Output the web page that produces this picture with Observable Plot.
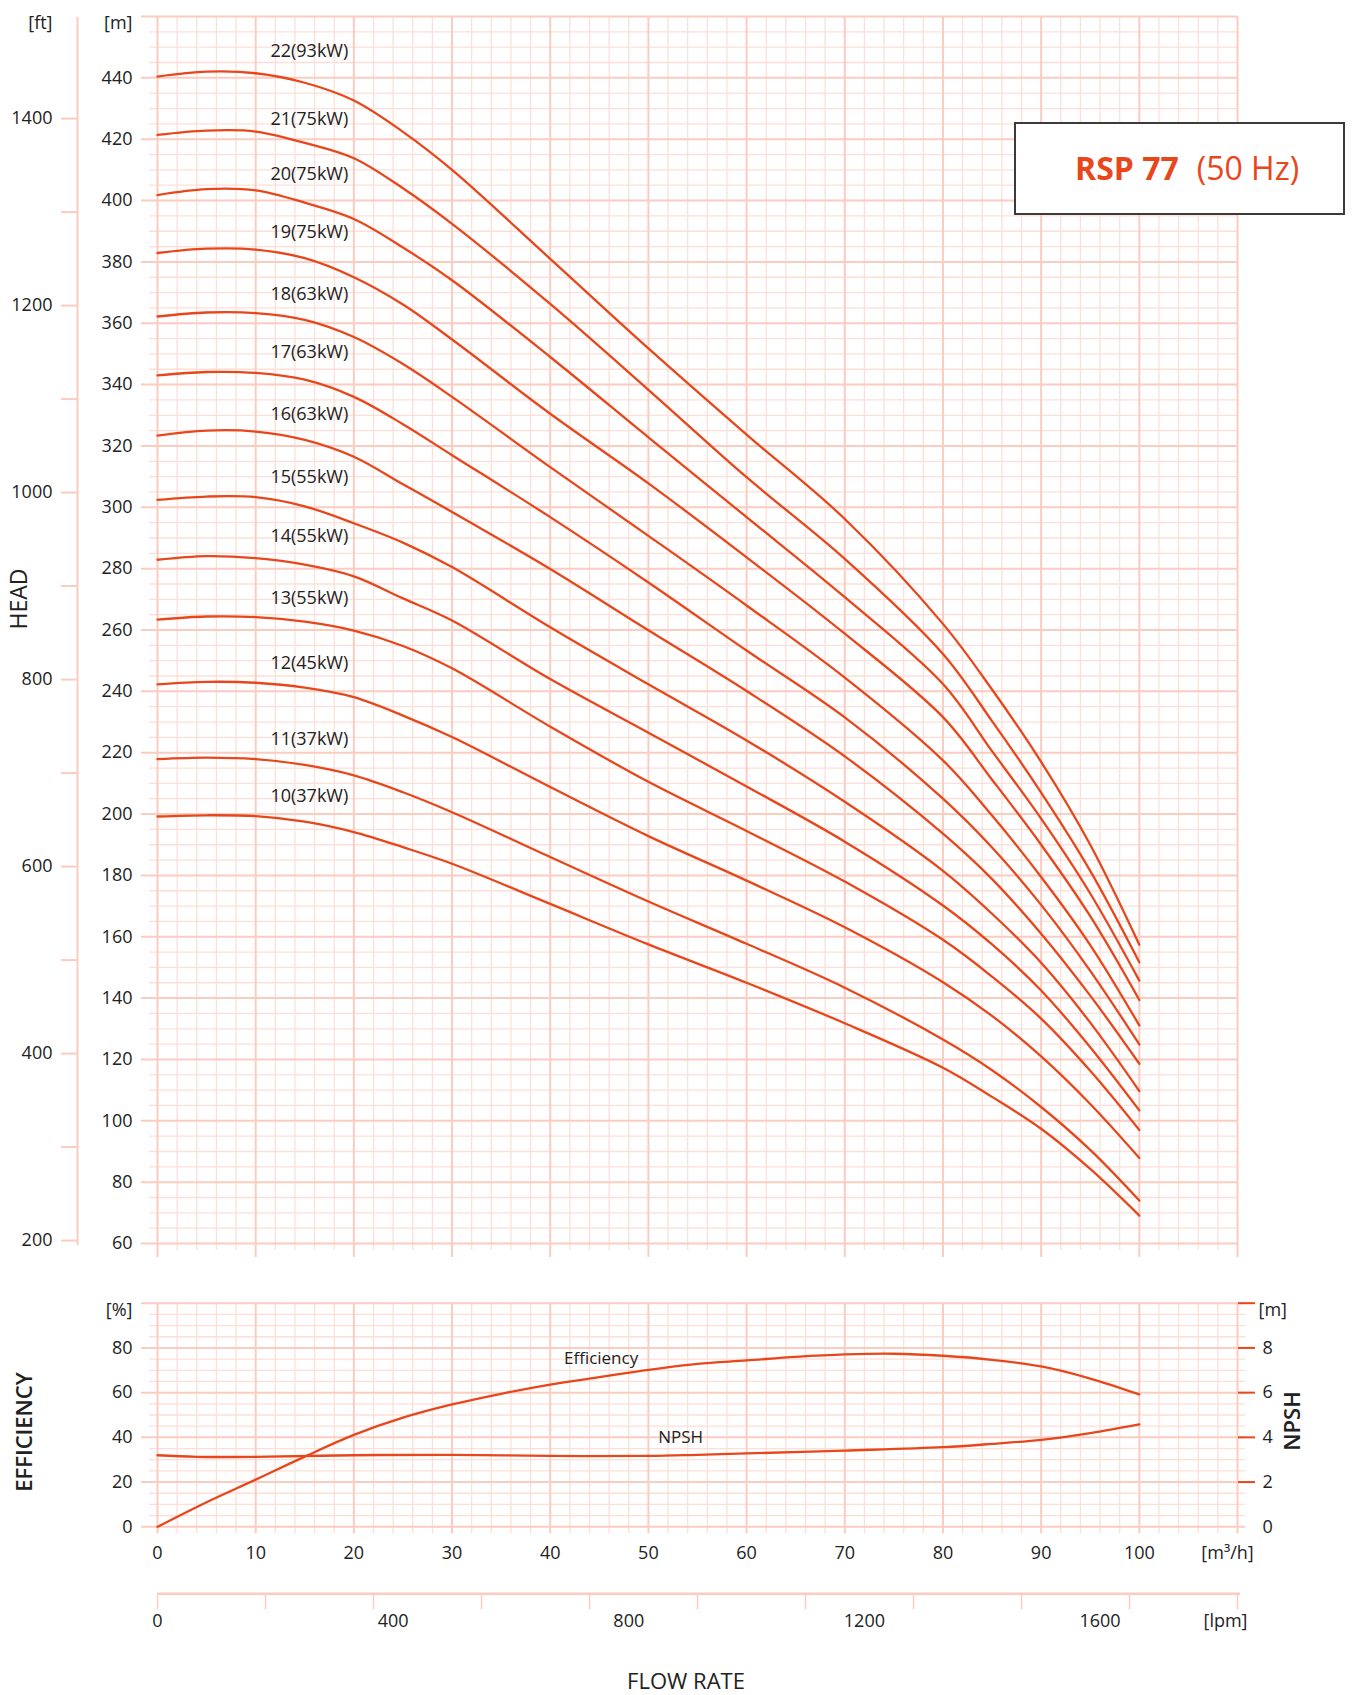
<!DOCTYPE html>
<html>
<head>
<meta charset="utf-8">
<script src="https://cdn.jsdelivr.net/npm/d3@7"></script>
<script src="https://cdn.jsdelivr.net/npm/@observablehq/plot@0.6"></script>
<style>
  html, body { margin: 0; padding: 0; background: #fff; }
  #page { position: relative; width: 1353px; height: 1695px; overflow: hidden; font-family: "Open Sans", sans-serif; color: #222; }
  .lbl { position: absolute; white-space: nowrap; line-height: 1; transform: translate(-50%, -50%); }
  .rot { transform: translate(-50%, -50%) rotate(-90deg); }
  #titlebox { position: absolute; left: 1014px; top: 122px; width: 331px; height: 93px; box-sizing: border-box;
    border: 2px solid #3b3b3b; background: #fff; display: flex; align-items: center; padding-left: 59px; padding-bottom: 3px;
    color: #e8461b; font-size: 32px; white-space: nowrap; font-family: "Open Sans", sans-serif; }
  #titlebox b { font-weight: 700; margin-right: 18px; }
</style>
</head>
<body>
<div id="page"></div>
<script>
// ---------------- data ----------------
const flowHead = [0, 5, 10, 15, 20, 25, 30, 40, 50, 60, 70, 80, 85, 90, 95, 100]; // m3/h
const stages = [22, 21, 20, 19, 18, 17, 16, 15, 14, 13, 12, 11, 10];
const motorKW = [93, 75, 75, 75, 63, 63, 63, 55, 55, 55, 45, 37, 37];
const head22 = [440.4, 442.0, 441.5, 438.4, 432.6, 422.4, 410.0, 381.0, 351.8, 323.7, 296.2, 262.0, 240.6, 217.0, 190.0, 157.4];
const head21 = [421.4, 422.8, 422.5, 418.8, 413.8, 404.0, 392.4, 366.3, 338.3, 309.8, 283.2, 252.2, 230.3, 207.0, 181.5, 151.7];
const head20 = [401.8, 403.7, 403.3, 399.3, 394.0, 384.7, 374.0, 349.0, 322.8, 296.8, 270.7, 242.4, 220.5, 198.5, 174.1, 145.7];
const head19 = [382.9, 384.3, 384.0, 381.2, 375.0, 366.1, 354.7, 330.5, 307.8, 283.7, 258.8, 231.6, 211.2, 190.0, 166.7, 139.4];
const head18 = [362.2, 363.5, 363.3, 361.1, 355.5, 346.7, 336.0, 313.1, 290.7, 268.0, 244.5, 217.5, 199.5, 179.5, 157.3, 131.1];
const head17 = [343.0, 344.1, 343.8, 341.6, 336.0, 327.1, 317.0, 296.8, 275.5, 253.3, 231.5, 205.0, 189.1, 170.4, 148.9, 124.9];
const head16 = [323.4, 325.0, 324.7, 322.0, 316.5, 307.5, 298.5, 279.9, 259.9, 240.1, 218.8, 193.6, 178.8, 161.0, 140.8, 118.6];
const head15 = [302.4, 303.5, 303.3, 300.3, 294.8, 288.5, 280.5, 260.9, 242.3, 224.0, 204.0, 181.5, 167.5, 151.5, 132.0, 109.7];
const head14 = [282.9, 284.1, 283.4, 281.3, 277.5, 270.3, 263.1, 244.0, 226.5, 209.0, 191.0, 170.2, 157.5, 142.5, 124.0, 103.4];
const head13 = [263.4, 264.4, 264.2, 262.7, 259.8, 254.8, 247.5, 228.5, 210.5, 194.5, 178.0, 159.0, 147.0, 133.3, 116.3, 97.0];
const head12 = [242.3, 243.1, 242.8, 241.2, 238.1, 232.1, 225.1, 208.8, 192.8, 178.3, 163.1, 145.2, 134.2, 121.0, 105.5, 87.9];
const head11 = [217.9, 218.4, 217.9, 216.0, 212.6, 207.1, 200.6, 186.0, 171.5, 157.7, 143.4, 126.5, 116.5, 104.5, 90.5, 74.0];
const head10 = [199.2, 199.6, 199.3, 197.5, 194.1, 189.2, 183.8, 170.7, 157.5, 145.0, 131.8, 117.3, 107.8, 97.4, 84.3, 69.1];
const headSeries = [head22, head21, head20, head19, head18, head17, head16, head15, head14, head13, head12, head11, head10];
const labelFlow = 11.5;
const labelHead = [448.7, 426.6, 408.7, 389.7, 369.6, 350.6, 330.3, 309.8, 290.5, 270.5, 249.3, 224.3, 205.7];

const flowEff = [0, 5, 10, 15, 20, 25, 30, 35, 40, 45, 50, 55, 60, 65, 70, 75, 80, 85, 90, 95, 100];
const efficiency = [0, 11, 21.1, 31.4, 41.1, 48.8, 54.7, 59.5, 63.6, 66.9, 70.2, 72.9, 74.4, 76, 77.1, 77.4, 76.5, 74.7, 71.7, 66.3, 59.2];
const flowNpsh = [0, 4, 10, 20, 30, 40, 50, 55, 60, 70, 80, 85, 90, 95, 100];
const npsh = [3.2, 3.13, 3.13, 3.2, 3.22, 3.17, 3.17, 3.22, 3.28, 3.41, 3.56, 3.71, 3.89, 4.19, 4.58];

const headTicks = [60, 80, 100, 120, 140, 160, 180, 200, 220, 240, 260, 280, 300, 320, 340, 360, 380, 400, 420, 440];
const ftTickLabels = [200, 400, 600, 800, 1000, 1200, 1400];
const ftTickMarks = [200, 300, 400, 500, 600, 700, 800, 900, 1000, 1100, 1200, 1300, 1400];
const flowTicks = [0, 10, 20, 30, 40, 50, 60, 70, 80, 90, 100];
const effTicks = [0, 20, 40, 60, 80];
const npshTicks = [0, 2, 4, 6, 8];
const lpmLabels = [0, 400, 800, 1200, 1600];

// ---------------- styling ----------------
const W = 1353, X0 = 157, X1 = 1237;
const minorC = "#fddfd7", majorC = "#fbccc0", curveC = "#e8461b", ink = "#222";
const FT = 0.3048;
const LPM = 1000 / 60;
const fmt = d => String(d);
const baseStyle = {background: "transparent", fontFamily: "'Open Sans', sans-serif", fontSize: "18px", color: ink, position: "absolute", left: "0px", overflow: "visible"};
const CURVE = "catmull-rom";

const xMinor = d3.range(0, 111, 2).filter(v => v % 10 !== 0);
const xMajor = d3.range(0, 111, 10);

const page = document.getElementById("page");

// ---------------- HEAD chart ----------------
const headRows = stages.flatMap((s, i) => flowHead.map((q, j) => ({stage: s, q, h: headSeries[i][j]})));
const labelRows = stages.map((s, i) => ({label: `${s}(${motorKW[i]}kW)`, q: labelFlow, h: labelHead[i]}));
const hTop = 16, hBot = 1243, hH = 1262;
const headPlot = Plot.plot({
  width: W, height: hH,
  marginLeft: X0, marginRight: W - X1, marginTop: hTop, marginBottom: hH - hBot,
  x: {domain: [0, 110], axis: null, label: null},
  y: {domain: [60, 460], axis: null, label: null},
  style: {...baseStyle, top: "0px"},
  marks: [
    Plot.ruleY(d3.range(60, 461, 5).filter(v => v % 20 !== 0), {stroke: minorC, strokeWidth: 1.3, insetLeft: -8}),
    Plot.ruleX(xMinor, {stroke: minorC, strokeWidth: 1.3, insetBottom: -7}),
    Plot.ruleY(d3.range(60, 461, 20), {stroke: majorC, strokeWidth: 2, insetLeft: -16}),
    Plot.ruleX(xMajor, {stroke: majorC, strokeWidth: 2, insetBottom: -14}),
    Plot.line(headRows, {x: "q", y: "h", z: "stage", stroke: curveC, strokeWidth: 2.3, curve: CURVE}),
    Plot.text(labelRows, {x: "q", y: "h", text: "label", textAnchor: "start", fill: ink, fontSize: 18}),
    Plot.axisY(headTicks, {anchor: "left", label: null, tickSize: 0, tickPadding: 25, tickFormat: fmt, fontSize: 18}),
    Plot.text(["[m]"], {frameAnchor: "top-left", dx: -25, textAnchor: "end", fill: ink, fontSize: 18})
  ]
});
page.appendChild(headPlot);

// feet axis
const ftPlot = Plot.plot({
  width: 100, height: hH,
  marginLeft: 77, marginRight: 20, marginTop: hTop, marginBottom: hH - hBot,
  x: {domain: [0, 1], axis: null, label: null},
  y: {domain: [60 / FT, 460 / FT], axis: null, label: null},
  style: {...baseStyle, top: "0px"},
  marks: [
    Plot.ruleX([0], {stroke: majorC, strokeWidth: 2, insetTop: 1, insetBottom: -2}),
    Plot.axisY(ftTickMarks, {anchor: "left", label: null, tickSize: 16, fill: "none", stroke: majorC, strokeWidth: 2}),
    Plot.axisY(ftTickLabels, {anchor: "left", label: null, tickSize: 0, tickPadding: 25, tickFormat: fmt, fontSize: 18}),
    Plot.text(["[ft]"], {frameAnchor: "top-left", dx: -25, textAnchor: "end", fill: ink, fontSize: 18})
  ]
});
page.appendChild(ftPlot);

// ---------------- EFFICIENCY / NPSH chart ----------------
const eTopAbs = 1280, eH = 290, eFrameTop = 1302.7, eFrameBot = 1526.3;
const effRows = flowEff.map((q, i) => ({q, v: efficiency[i]}));
const npshRows = flowNpsh.map((q, i) => ({q, m: npsh[i]}));
const effPlot = Plot.plot({
  width: W, height: eH,
  marginLeft: X0, marginRight: W - X1, marginTop: eFrameTop - eTopAbs, marginBottom: eTopAbs + eH - eFrameBot,
  x: {domain: [0, 110], axis: null, label: null},
  y: {domain: [0, 100], axis: null, label: null},
  style: {...baseStyle, top: eTopAbs + "px"},
  marks: [
    Plot.ruleY(d3.range(0, 101, 5).filter(v => v % 20 !== 0), {stroke: minorC, strokeWidth: 1.3, insetLeft: -8, insetRight: -8}),
    Plot.ruleX(xMinor, {stroke: minorC, strokeWidth: 1.3, insetBottom: -7}),
    Plot.ruleY(d3.range(0, 101, 20), {stroke: majorC, strokeWidth: 2, insetLeft: -16, insetRight: -8}),
    Plot.ruleX(xMajor, {stroke: majorC, strokeWidth: 2, insetBottom: -7}),
    Plot.line(effRows, {x: "q", y: "v", stroke: curveC, strokeWidth: 2.3, curve: CURVE}),
    Plot.line(npshRows, {x: "q", y: d => d.m * 10, stroke: curveC, strokeWidth: 2.3, curve: CURVE}),
    Plot.text(["Efficiency"], {x: 41.4, y: 75.4, textAnchor: "start", fill: ink, fontSize: 17}),
    Plot.text(["NPSH"], {x: 51, y: 40, textAnchor: "start", fill: ink, fontSize: 17}),
    Plot.axisY(effTicks, {anchor: "left", label: null, tickSize: 0, tickPadding: 25, tickFormat: fmt, fontSize: 18}),
    Plot.text(["[%]"], {frameAnchor: "top-left", dx: -25, textAnchor: "end", fill: ink, fontSize: 18}),
    Plot.axisY(npshTicks.slice(1).concat([10]).map(v => v * 10), {anchor: "right", label: null, tickSize: 17, fill: "none", stroke: curveC, strokeWidth: 2}),
    Plot.axisY(npshTicks.map(v => v * 10), {anchor: "right", label: null, tickSize: 0, tickPadding: 25, tickFormat: d => String(d / 10), fontSize: 18}),
    Plot.text(["[m]"], {frameAnchor: "top-right", dx: 21, textAnchor: "start", fill: ink, fontSize: 18}),
    Plot.axisX(flowTicks, {anchor: "bottom", label: null, tickSize: 0, tickPadding: 19, tickFormat: fmt, fontSize: 18}),
    Plot.text(["[m³/h]"], {frameAnchor: "bottom-right", dx: -10, dy: 19, lineAnchor: "top", textAnchor: "middle", fill: ink, fontSize: 18})
  ]
});
page.appendChild(effPlot);

// ---------------- lpm axis ----------------
const lTopAbs = 1570, lH = 75, lAxisY = 1593.3;
const lpmPlot = Plot.plot({
  width: W, height: lH,
  marginLeft: X0, marginRight: W - X1, marginTop: 10, marginBottom: lTopAbs + lH - lAxisY,
  x: {domain: [0, 110 * LPM], axis: null, label: null},
  y: {domain: [0, 1], axis: null, label: null},
  style: {...baseStyle, top: lTopAbs + "px"},
  marks: [
    Plot.ruleY([0], {stroke: majorC, strokeWidth: 2.5, insetRight: -3}),
    Plot.axisX(d3.range(0, 111, 11).map(q => q * LPM), {anchor: "bottom", label: null, tickSize: 16, fill: "none", stroke: majorC, strokeWidth: 1.5}),
    Plot.axisX(lpmLabels, {anchor: "bottom", label: null, tickSize: 0, tickPadding: 20, tickFormat: fmt, fontSize: 18}),
    Plot.text(["[lpm]"], {frameAnchor: "bottom-right", dx: -12, dy: 20, lineAnchor: "top", textAnchor: "middle", fill: ink, fontSize: 18})
  ]
});
page.appendChild(lpmPlot);

// ---------------- titles ----------------
function addLabel(text, x, y, size, weight, rot) {
  const d = document.createElement("div");
  d.className = "lbl" + (rot ? " rot" : "");
  d.textContent = text;
  d.style.left = x + "px"; d.style.top = y + "px";
  d.style.fontSize = size + "px"; d.style.fontWeight = weight;
  page.appendChild(d);
}
addLabel("HEAD", 18, 599, 23, 400, true);
addLabel("EFFICIENCY", 23, 1432, 22, 600, true);
addLabel("NPSH", 1291, 1421, 22, 600, true);
addLabel("FLOW RATE", 686, 1680, 22, 400, false);

const box = document.createElement("div");
box.id = "titlebox";
box.innerHTML = "<b>RSP 77</b><span>(50 Hz)</span>";
page.appendChild(box);
</script>
</body>
</html>
